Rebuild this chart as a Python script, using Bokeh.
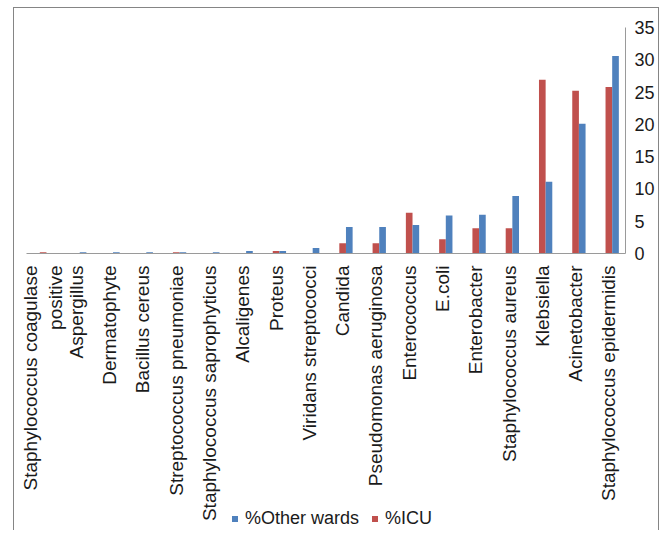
import math
from bokeh.plotting import figure
from bokeh.layouts import column
from bokeh.models import ColumnDataSource, FactorRange, Range1d, Legend, LegendItem, FixedTicker
from bokeh.transform import dodge
from bokeh.embed import file_html
from bokeh.resources import INLINE

organisms = [
    "Staphylococcus coagulase positive", "Aspergillus", "Dermatophyte", "Bacillus cereus",
    "Streptococcus pneumoniae", "Staphylococcus saprophyticus", "Alcaligenes", "Proteus",
    "Viridans streptococci", "Candida", "Pseudomonas aeruginosa", "Enterococcus", "E.coli",
    "Enterobacter", "Staphylococcus aureus", "Klebsiella", "Acinetobacter",
    "Staphylococcus epidermidis",
]
icu_pct = [0.2, 0, 0, 0, 0.2, 0, 0, 0.4, 0, 1.6, 1.6, 6.3, 2.2, 3.9, 3.9, 26.9, 25.2, 25.8]
other_pct = [0, 0.2, 0.2, 0.2, 0.2, 0.2, 0.4, 0.4, 0.85, 4.1, 4.1, 4.4, 5.9, 6.0, 8.9, 11.1, 20.1, 30.6]
y_ticks = [0, 5, 10, 15, 20, 25, 30, 35]
series_names = ["%Other wards", "%ICU"]
# the first category's label is shown on two lines
wrap = {"Staphylococcus coagulase positive": "Staphylococcus coagulase\npositive"}
factors = [wrap.get(o, o) for o in organisms]

ICU_COLOR = "#C0504D"
OTHER_COLOR = "#4F81BD"
FONT = "Liberation Sans"
TEXT_COLOR = "#1a1a1a"
AXIS_COLOR = "#9a9a9a"
FRAME_LINE = "1px solid #858585"

src = ColumnDataSource(dict(org=factors, icu=icu_pct, other=other_pct))

p = figure(
    x_range=FactorRange(*factors, range_padding=0),
    y_range=Range1d(0, 35),
    width=646, height=516,
    y_axis_location="right",
    output_backend="svg", toolbar_location=None,
    min_border_left=12, min_border_right=35, min_border_top=19, min_border_bottom=271,
)
p.margin = (7, 0, 0, 13)
p.styles = {"border-left": FRAME_LINE, "border-top": FRAME_LINE,
            "border-right": FRAME_LINE, "box-sizing": "border-box"}
p.outline_line_color = None
p.xgrid.grid_line_color = None
p.ygrid.grid_line_color = None
p.background_fill_color = "white"
p.border_fill_color = "white"

p.vbar(x=dodge("org", 0.0, range=p.x_range), top="icu", width=0.2, source=src,
       fill_color=ICU_COLOR, line_color=None)
p.vbar(x=dodge("org", 0.2, range=p.x_range), top="other", width=0.2, source=src,
       fill_color=OTHER_COLOR, line_color=None)

xa = p.xaxis[0]
xa.major_label_orientation = math.pi / 2
xa.major_label_text_font = FONT
xa.major_label_text_font_size = "19px"
xa.major_label_text_color = TEXT_COLOR
xa.major_label_standoff = 6
xa.major_tick_line_color = None
xa.minor_tick_line_color = None
xa.axis_line_color = AXIS_COLOR
xa.axis_line_width = 1

ya = p.yaxis[0]
ya.ticker = FixedTicker(ticks=y_ticks)
ya.major_label_text_font = FONT
ya.major_label_text_font_size = "18px"
ya.major_label_text_color = TEXT_COLOR
ya.major_label_standoff = 3
ya.major_tick_line_color = None
ya.minor_tick_line_color = None
ya.axis_line_color = AXIS_COLOR

# legend strip: a second transparent figure overlapping the bottom of the first.
# Its key renderers use the same data, but its y range lies above all values, so
# only their legend swatches are visible.
lg = figure(width=646, height=24, x_range=p.x_range, y_range=Range1d(100, 101),
            x_axis_location=None, y_axis_location=None,
            output_backend="svg", toolbar_location=None,
            min_border=0, min_border_left=0, min_border_right=0,
            min_border_top=0, min_border_bottom=0)
lg.margin = (-17, 0, 0, 13)
lg.styles = {"border-left": FRAME_LINE, "border-right": FRAME_LINE, "box-sizing": "border-box"}
lg.outline_line_color = None
lg.xgrid.grid_line_color = None
lg.ygrid.grid_line_color = None
lg.background_fill_color = None
lg.border_fill_color = None
key_other = lg.scatter(x="org", y="other", source=src, marker="square",
                       fill_color=OTHER_COLOR, line_color=None)
key_icu = lg.scatter(x="org", y="icu", source=src, marker="square",
                     fill_color=ICU_COLOR, line_color=None)

legend = Legend(
    items=[LegendItem(label=series_names[0], renderers=[key_other]),
           LegendItem(label=series_names[1], renderers=[key_icu])],
    orientation="horizontal",
    location=(201, 1),
    glyph_width=15, glyph_height=15,
    label_text_font=FONT, label_text_font_size="18px", label_text_color=TEXT_COLOR,
    label_standoff=3, spacing=8, padding=0, margin=0,
    border_line_color=None, background_fill_alpha=0,
)
lg.add_layout(legend, "center")

layout = column(p, lg, spacing=0)
open("out.html", "w").write(file_html(layout, INLINE))
